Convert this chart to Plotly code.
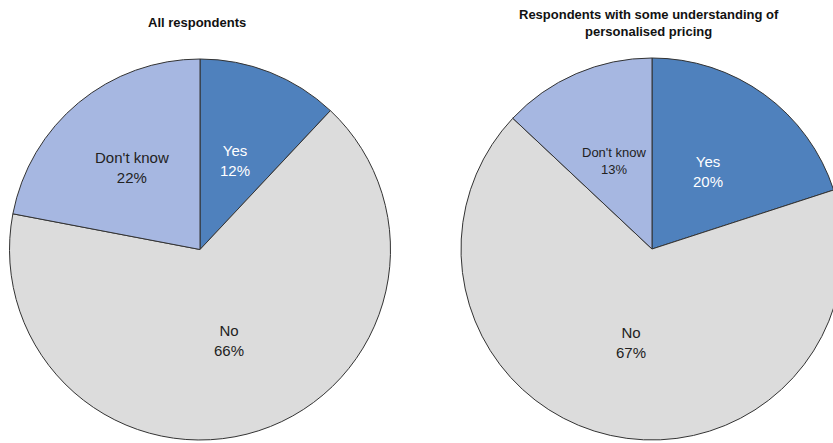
import math
import plotly.graph_objects as go

categories = ["Yes", "No", "Don't know"]
all_values = [12, 66, 22]
understand_values = [20, 67, 13]
titles = ["<b>All respondents</b>",
          "<b>Respondents with some understanding of<br>personalised pricing</b>"]

colors = ["#4F81BD", "#DCDCDC", "#A6B7E1"]
text_colors = ["#FFFFFF", "#222222", "#222222"]

W, H = 900, 443
font_family = "Liberation Sans, Arial, sans-serif"

fig = go.Figure()

def dom(cx, cy, r):
    return dict(x=[(cx - r) / W, (cx + r) / W],
                y=[(H - cy - r) / H, (H - cy + r) / H])

pies = [
    dict(values=all_values, cx=200, cy=249.5, r=190.5, sizes=[15, 15, 15], k=[0.5, 0.5, 0.56]),
    dict(values=understand_values, cx=652, cy=249, r=191, sizes=[15, 15, 13], k=[0.5, 0.5, 0.5]),
]

for p in pies:
    fig.add_trace(go.Pie(
        labels=categories, values=p["values"], sort=False, direction="clockwise",
        rotation=0, domain=dom(p["cx"], p["cy"], p["r"]),
        marker=dict(colors=colors, line=dict(color="#333333", width=1)),
        textinfo="none", showlegend=False, hoverinfo="label+value",
    ))
    total = sum(p["values"])
    cum = 0
    for i, (lab, v) in enumerate(zip(categories, p["values"])):
        mid = (cum + v / 2) / total
        cum += v
        th = 2 * math.pi * mid
        x = p["cx"] + p["k"][i] * p["r"] * math.sin(th)
        y = p["cy"] - p["k"][i] * p["r"] * math.cos(th)
        fig.add_annotation(text=f"{lab}<br>{v}%", x=x / W, y=1 - y / H,
                           xref="paper", yref="paper", showarrow=False,
                           xanchor="center", yanchor="middle",
                           font=dict(family=font_family, size=p["sizes"][i],
                                     color=text_colors[i]))

fig.add_annotation(text=titles[0], x=197 / W, y=1 - 22 / H, xref="paper", yref="paper",
                   showarrow=False, xanchor="center", yanchor="middle",
                   font=dict(family=font_family, size=13, color="#111111"))
fig.add_annotation(text=titles[1], x=649 / W, y=1 - 23 / H, xref="paper", yref="paper",
                   showarrow=False, xanchor="center", yanchor="middle",
                   font=dict(family=font_family, size=13, color="#111111"))

fig.update_layout(width=W, height=H, margin=dict(l=0, r=0, t=0, b=0),
                  paper_bgcolor="white", plot_bgcolor="white",
                  font=dict(family=font_family))

fig.write_html("out.html", post_script="document.documentElement.style.overflow='hidden';document.body.style.overflow='hidden';document.body.style.margin='0';")
